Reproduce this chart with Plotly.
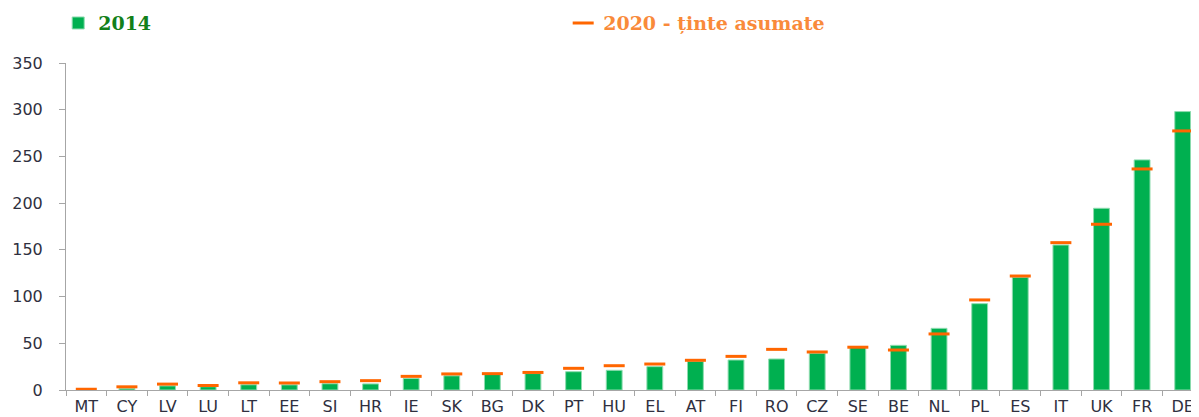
import plotly.graph_objects as go

countries = ["MT", "CY", "LV", "LU", "LT", "EE", "SI", "HR", "IE", "SK", "BG", "DK", "PT", "HU",
             "EL", "AT", "FI", "RO", "CZ", "SE", "BE", "NL", "PL", "ES", "IT", "UK", "FR", "DE"]
values_2014 = [0.3, 1.7, 4.4, 3.5, 5.6, 5.5, 6.7, 6.5, 12.4, 15.2, 17.0, 17.6, 19.6, 21.1,
               25.0, 30.7, 32.1, 33.2, 39.3, 46.4, 47.8, 66.0, 92.4, 120.6, 155.2, 194.5, 246.3, 298.0]
targets_2020 = [0.8, 3.4, 6.3, 4.8, 7.7, 7.5, 8.9, 10.0, 14.6, 17.2, 17.5, 18.8, 23.2, 26.0,
                27.8, 31.8, 36.0, 43.5, 40.7, 45.8, 42.8, 60.0, 96.4, 122.0, 157.7, 177.4, 236.6, 277.3]
y_ticks = [0, 50, 100, 150, 200, 250, 300, 350]

GREEN = "#00B050"
ORANGE = "#FF6600"

fig = go.Figure()
fig.add_trace(go.Bar(
    x=countries, y=values_2014,
    name="<span style='color:#12801a'><b>2014</b></span>",
    marker=dict(color=GREEN, line=dict(color="#8fdcb0", width=1)),
    width=0.39,
))
fig.add_trace(go.Scatter(
    x=countries, y=targets_2020, mode="markers",
    name="<span style='color:#F98A3A'><b>2020 - ținte asumate</b></span>",
    marker=dict(symbol="line-ew", size=15, line=dict(color=ORANGE, width=3)),
))

fig.update_layout(
    width=1195, height=409,
    margin=dict(l=58, r=0, t=55, b=27, autoexpand=False),
    paper_bgcolor="white", plot_bgcolor="white",
    showlegend=True,
    legend=dict(
        orientation="h", xref="container", yref="container",
        x=0.042, y=0.963, xanchor="left", yanchor="middle",
        font=dict(family="DejaVu Serif", size=19, color="#12801a"),
        entrywidthmode="pixels", entrywidth=460,
        bgcolor="rgba(0,0,0,0)",
    ),
    xaxis=dict(
        type="category", range=[-0.5, 27.5], automargin=False,
        showline=True, linecolor="#A6A6A6", linewidth=1,
        ticks="outside", tickson="boundaries", ticklen=5, tickcolor="#A6A6A6",
        ticklabelstandoff=2,
        tickfont=dict(family="DejaVu Sans", size=16, color="#2f3040"),
        showgrid=False, zeroline=False,
    ),
    yaxis=dict(
        range=[0, 350], tickvals=y_ticks, automargin=False,
        showline=True, linecolor="#A6A6A6", linewidth=1,
        ticks="outside", ticklen=6, tickcolor="#A6A6A6",
        ticklabelstandoff=13,
        tickfont=dict(family="DejaVu Sans", size=16, color="#2f3040"),
        showgrid=False, zeroline=False,
    ),
    bargap=0.6,
)

fig.write_html("out.html")
